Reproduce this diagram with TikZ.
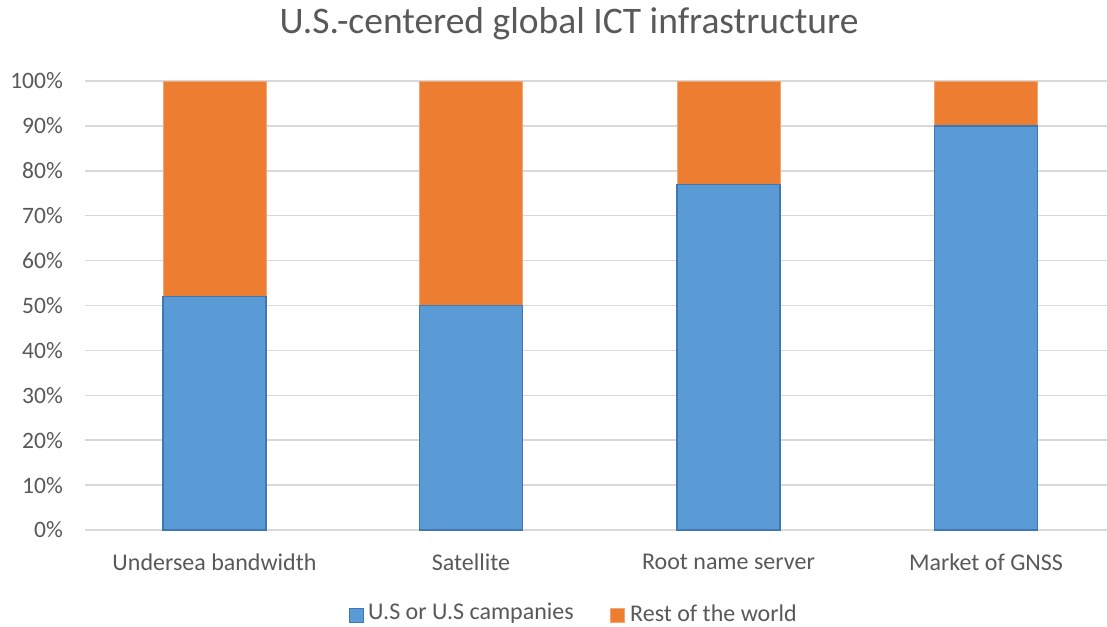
\documentclass[tikz,border=0pt]{standalone}
\usepackage{fontspec}
\setmainfont{Carlito}
\definecolor{txt}{HTML}{595959}
\definecolor{grid}{HTML}{D9D9D9}
\definecolor{bluef}{HTML}{5B9BD5}
\definecolor{blued}{HTML}{3F77B3}
\definecolor{orangef}{HTML}{ED7D31}
\definecolor{oranged}{HTML}{F3A673}
\tikzset{
  ylab/.style={anchor=east, text=txt, font=\fontsize{23.5}{26}\selectfont, inner sep=0pt},
  catlab/.style={anchor=center, text=txt, font=\fontsize{24}{26}\selectfont, inner sep=0pt},
  leglab/.style={anchor=west, text=txt, font=\fontsize{24}{26}\selectfont, inner sep=0pt},
  gridline/.style={draw=grid, line width=1.5pt},
  usbar/.style={fill=bluef, draw=blued, line width=1.3pt},
  rowbar/.style={fill=orangef, draw=oranged, line width=0.6pt},
}
\begin{document}
\begin{tikzpicture}[x=1pt,y=-1pt]
\useasboundingbox[fill=white] (0,0) rectangle (1107,626);
\node[anchor=center, text=txt, font=\fontsize{37.5}{40}\selectfont, inner sep=0pt] (title) at (569,24) {U.S.-centered global ICT infrastructure};
% grid and y labels
\foreach \i in {0,...,10}{
  \pgfmathsetmacro{\yy}{530-44.9*\i}
  \draw[gridline] (85,\yy) -- (1107,\yy);
  \pgfmathtruncatemacro{\pp}{10*\i}
  \node[ylab] (y\i) at (63,\yy) {\pp\%};
}
% bars: center, value
\foreach \c/\v/\n in {214.5/52/a, 471/50/b, 728.5/77/c, 986/90/d}{
  \pgfmathsetmacro{\top}{530-4.49*\v}
  \pgfmathsetmacro{\xl}{\c-51.5}
  \pgfmathsetmacro{\xr}{\c+51.5}
  \draw[rowbar] (\xl,81) rectangle (\xr,\top);
  \draw[usbar] (\xl,\top) rectangle (\xr,530);
}
\node[catlab] (c1) at (214.5,562) {Undersea bandwidth};
\node[catlab] (c2) at (471,562) {Satellite};
\node[catlab] (c3) at (728.5,562) {Root name server};
\node[catlab] (c4) at (986,562) {Market of GNSS};
% legend
\draw[usbar, line width=1pt] (349,608) rectangle (363,622);
\node[leglab] (l1) at (368,613.5) {U.S or U.S campanies};
\draw[rowbar] (610,608) rectangle (624,622);
\node[leglab] (l2) at (630,613.5) {Rest of the world};
\end{tikzpicture}
\end{document}
